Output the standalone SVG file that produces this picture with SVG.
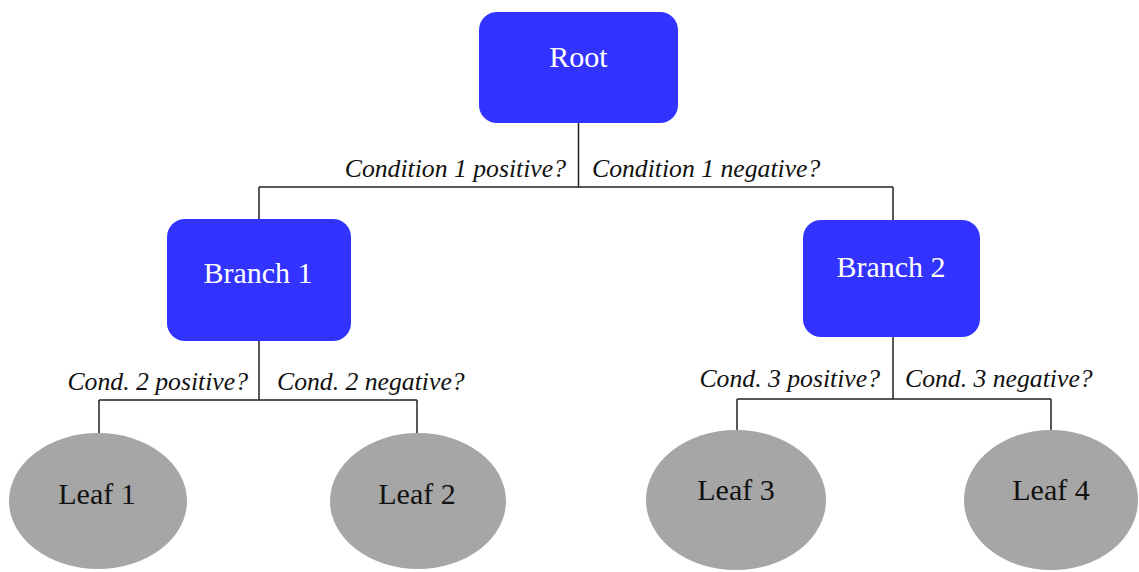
<svg xmlns="http://www.w3.org/2000/svg" width="1139" height="572" viewBox="0 0 1139 572">
<style>
.box{fill:#3333ff;}
.leaf{fill:#a6a6a6;}
.bt{font-family:"Liberation Serif",serif;font-size:30px;fill:#ffffff;text-anchor:middle;}
.lt{font-family:"Liberation Serif",serif;font-size:30px;fill:#111111;text-anchor:middle;}
.lab{font-family:"Liberation Serif",serif;font-size:25.7px;font-style:italic;fill:#111111;}
.r{text-anchor:end;}
.conn{fill:none;stroke:#222222;stroke-width:1.5;}
</style>
<rect width="1139" height="572" fill="#ffffff"/>
<g id="connectors">
<path class="conn" d="M578.5,123 V187 M259,187 H893 M259,187 V220 M893,187 V220"/>
<path class="conn" d="M259,341 V400 M99,400 H417 M99,400 V433 M417,400 V433"/>
<path class="conn" d="M893,337 V399 M737,399 H1051 M737,399 V430 M1051,399 V430"/>
<text class="lab r" x="566" y="177">Condition 1 positive?</text>
<text class="lab" x="592" y="177">Condition 1 negative?</text>
<text class="lab r" x="248" y="390">Cond. 2 positive?</text>
<text class="lab" x="277" y="390">Cond. 2 negative?</text>
<text class="lab r" x="880" y="387">Cond. 3 positive?</text>
<text class="lab" x="905" y="387">Cond. 3 negative?</text>
</g>
<g id="root">
<rect class="box" x="479" y="12" width="199" height="111" rx="18"/>
<text class="bt" x="578.5" y="67">Root</text>
</g>
<g id="branch1">
<rect class="box" x="167" y="219" width="184" height="122" rx="18"/>
<text class="bt" x="258" y="283">Branch 1</text>
</g>
<g id="branch2">
<rect class="box" x="803" y="220" width="177" height="117" rx="18"/>
<text class="bt" x="891" y="277">Branch 2</text>
</g>
<g id="leaf1">
<ellipse class="leaf" cx="98" cy="501" rx="89" ry="68"/>
<text class="lt" x="97" y="504">Leaf 1</text>
</g>
<g id="leaf2">
<ellipse class="leaf" cx="418" cy="501" rx="88" ry="68"/>
<text class="lt" x="417" y="504">Leaf 2</text>
</g>
<g id="leaf3">
<ellipse class="leaf" cx="736" cy="500" rx="90" ry="70"/>
<text class="lt" x="736" y="500">Leaf 3</text>
</g>
<g id="leaf4">
<ellipse class="leaf" cx="1051" cy="500" rx="87" ry="70"/>
<text class="lt" x="1051" y="500">Leaf 4</text>
</g>
</svg>
